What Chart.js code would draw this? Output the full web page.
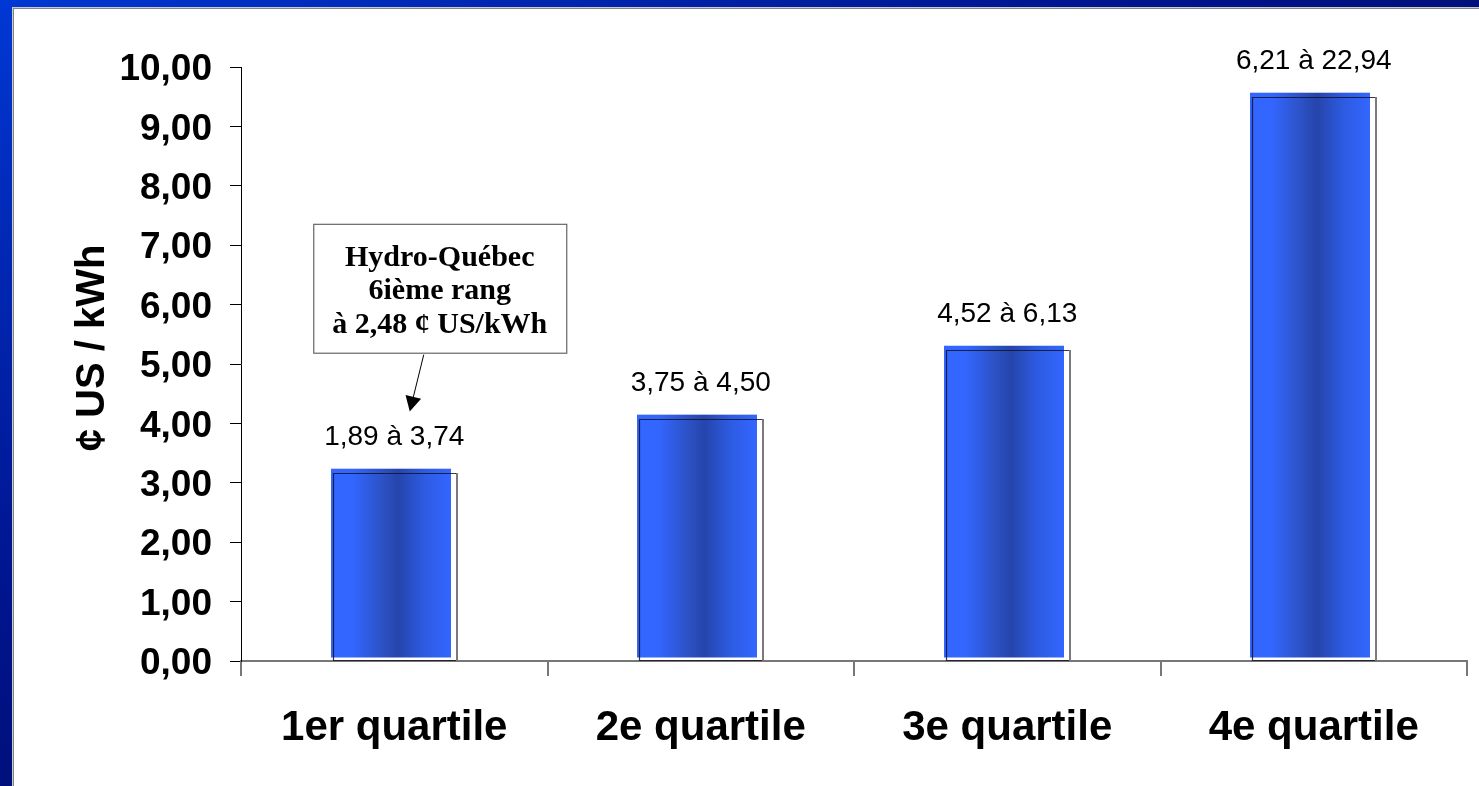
<!DOCTYPE html>
<html>
<head>
<meta charset="utf-8">
<script src="https://cdn.jsdelivr.net/npm/chart.js@4/dist/chart.umd.min.js"></script>
<style>
  html, body { margin: 0; padding: 0; width: 1479px; height: 786px; overflow: hidden; }
  body {
    position: relative;
    background: linear-gradient(to bottom right, #0038d4 0%, #0028b4 16%, #00148e 38%, #000c6c 60%, #000a62 100%);
  }
  #panel {
    position: absolute; left: 12px; top: 7px; right: 0; bottom: 0;
    background: #fff;
    border-left: 1px solid #c9c9d4; border-top: 1px solid #c9c9d4;
    box-shadow: inset 1px 1px 0 #858585;
  }
  #chart { position: absolute; left: 0; top: 0; }
</style>
</head>
<body>
<div id="panel"></div>
<canvas id="chart" width="1479" height="786"></canvas>
<script>
// Quartiles of electricity prices (¢ US / kWh)
const categories = ['1er quartile', '2e quartile', '3e quartile', '4e quartile'];
const averages = [3.17, 4.08, 5.24, 9.50];
const ranges = ['1,89 à 3,74', '3,75 à 4,50', '4,52 à 6,13', '6,21 à 22,94'];
const yTickLabels = ['0,00', '1,00', '2,00', '3,00', '4,00', '5,00', '6,00', '7,00', '8,00', '9,00', '10,00'];
const yTitle = '¢ US / kWh';
const calloutLines = ['Hydro-Québec', '6ième rang', 'à 2,48 ¢ US/kWh'];

const SANS = 'Liberation Sans, Arial, sans-serif';
const SERIF = 'Liberation Serif, Times New Roman, serif';

// Cylinder-like fill, offset up/left of a thin outlined frame
const barStyle = {
  id: 'barStyle',
  afterDatasetsDraw(chart) {
    const { ctx } = chart;
    const meta = chart.getDatasetMeta(0);
    meta.data.forEach((bar, i) => {
      const { x, y, base, width } = bar.getProps(['x', 'y', 'base', 'width'], true);
      const L = Math.round(x - width / 2), R = Math.round(x + width / 2);
      const fl = L - 2, fr = R - 5, ft = y - 4, fb = base - 3;
      const g = ctx.createLinearGradient(fl, 0, fr, 0);
      g.addColorStop(0, '#3366ff');
      g.addColorStop(0.18, '#3366ff');
      g.addColorStop(0.42, '#2c52c6');
      g.addColorStop(0.56, '#2645ab');
      g.addColorStop(0.78, '#2d5be2');
      g.addColorStop(1, '#3366ff');
      ctx.save();
      ctx.fillStyle = g;
      ctx.fillRect(fl, ft, fr - fl, fb - ft);
      // frame: dark left/top/bottom, grey right edge
      ctx.strokeStyle = 'rgba(20,20,40,0.85)';
      ctx.lineWidth = 1.2;
      ctx.beginPath();
      ctx.moveTo(R, Math.round(y) + 0.5);
      ctx.lineTo(L + 0.5, Math.round(y) + 0.5);
      ctx.lineTo(L + 0.5, base);
      ctx.lineTo(R, base);
      ctx.stroke();
      ctx.strokeStyle = '#7a7a7a';
      ctx.lineWidth = 2;
      ctx.beginPath();
      ctx.moveTo(R + 1, Math.round(y));
      ctx.lineTo(R + 1, base);
      ctx.stroke();
      // range label above the bar
      ctx.fillStyle = '#000';
      ctx.font = '28px ' + SANS;
      ctx.textAlign = 'center';
      ctx.textBaseline = 'middle';
      ctx.fillText(ranges[i], x, y - 35);
      ctx.restore();
    });
  }
};

// Callout box with arrow, and the rotated y-axis title
const extras = {
  id: 'extras',
  afterDraw(chart) {
    const { ctx, scales: { x: xs, y: ys } } = chart;
    const cx0 = xs.getPixelForValue(0);
    const L = cx0 - 81, R = cx0 + 172;
    const T = ys.getPixelForValue(7.36), B = ys.getPixelForValue(5.19);
    ctx.save();
    ctx.fillStyle = '#fff';
    ctx.fillRect(L, T, R - L, B - T);
    ctx.strokeStyle = '#666';
    ctx.lineWidth = 1.2;
    ctx.strokeRect(L + 0.5, T + 0.5, R - L, B - T);
    ctx.fillStyle = '#000';
    ctx.font = 'bold 30px ' + SERIF;
    ctx.textAlign = 'center';
    ctx.textBaseline = 'alphabetic';
    const mx = (L + R) / 2;
    [42, 75, 109].forEach((dy, k) => ctx.fillText(calloutLines[k], mx, T + dy));
    // arrow
    const ax = cx0 + 29.5, ay = B + 2;
    const tx = cx0 + 15.5, ty = ys.getPixelForValue(4.20);
    const ang = Math.atan2(ty - ay, tx - ax);
    const hl = 15, hw = 8;
    const bx = tx - hl * Math.cos(ang), by = ty - hl * Math.sin(ang);
    ctx.strokeStyle = '#000';
    ctx.lineWidth = 1;
    ctx.beginPath(); ctx.moveTo(ax, ay); ctx.lineTo(bx, by); ctx.stroke();
    ctx.beginPath();
    ctx.moveTo(tx, ty);
    ctx.lineTo(bx + hw * Math.sin(ang), by - hw * Math.cos(ang));
    ctx.lineTo(bx - hw * Math.sin(ang), by + hw * Math.cos(ang));
    ctx.closePath();
    ctx.fill();
    // y title
    ctx.translate(93, 348);
    ctx.rotate(-Math.PI / 2);
    ctx.font = 'bold 40px ' + SANS;
    ctx.textAlign = 'center';
    ctx.textBaseline = 'middle';
    ctx.fillText(yTitle, 0, 0);
    ctx.restore();
  }
};

new Chart(document.getElementById('chart'), {
  type: 'bar',
  data: {
    labels: categories,
    datasets: [{
      data: averages,
      backgroundColor: 'rgba(0,0,0,0)',
      borderWidth: 0,
      barPercentage: 0.4,
      categoryPercentage: 1
    }]
  },
  options: {
    responsive: false,
    animation: false,
    devicePixelRatio: 1,
    layout: { padding: { left: 0, right: 12, top: 67, bottom: 0 } },
    plugins: { legend: { display: false }, tooltip: { enabled: false } },
    scales: {
      x: {
        grid: { offset: true, drawOnChartArea: false, drawTicks: true, tickLength: 15, color: '#777', lineWidth: 2 },
        border: { display: true, color: '#777', width: 2 },
        ticks: { font: { family: SANS, size: 42, weight: 'bold' }, color: '#000', padding: 27, maxRotation: 0, autoSkip: false },
        afterFit(s) { s.height = 125; }
      },
      y: {
        min: 0, max: 10,
        ticks: {
          stepSize: 1,
          callback: (v, i) => yTickLabels[i],
          font: { family: SANS, size: 37, weight: 'bold' },
          color: '#000',
          padding: 18,
          labelOffset: 3
        },
        grid: { drawOnChartArea: false, tickLength: 11, color: '#000', lineWidth: 1 },
        border: { color: '#000', width: 1 },
        afterFit(s) { s.width = 241; }
      }
    }
  },
  plugins: [barStyle, extras]
});
</script>
</body>
</html>
